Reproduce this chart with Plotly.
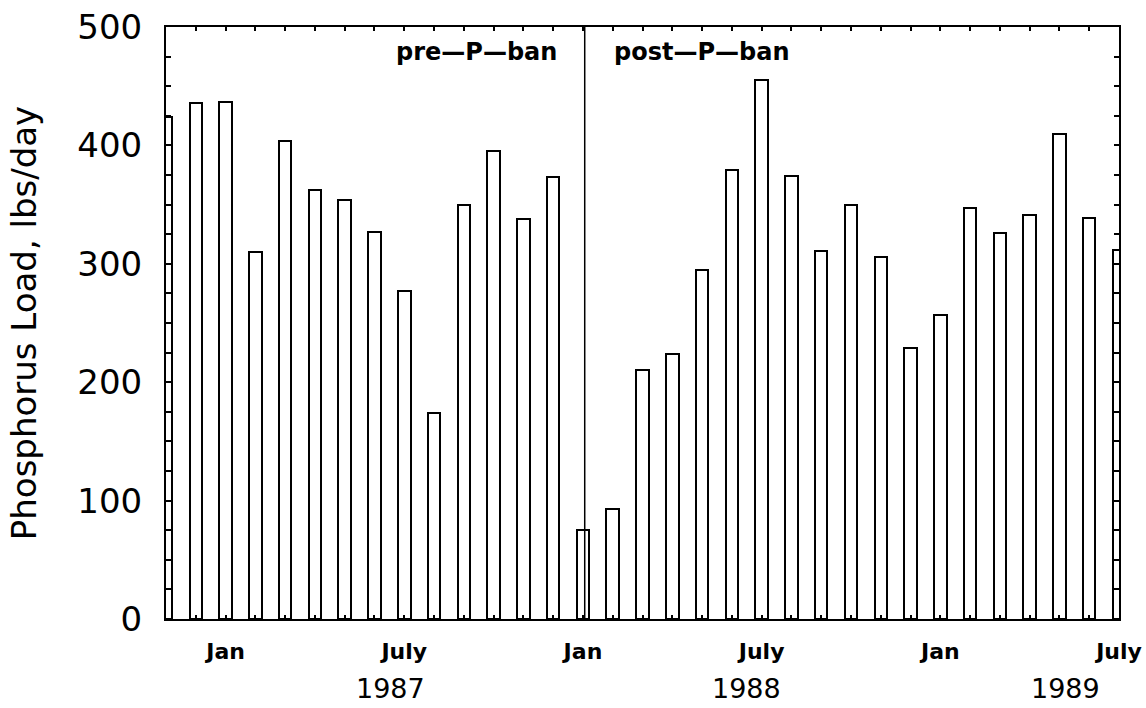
import plotly.graph_objects as go

# ---- data ----
months = [
    "Nov 1986", "Dec 1986",
    "Jan 1987", "Feb 1987", "Mar 1987", "Apr 1987", "May 1987", "Jun 1987",
    "Jul 1987", "Aug 1987", "Sep 1987", "Oct 1987", "Nov 1987", "Dec 1987",
    "Jan 1988", "Feb 1988", "Mar 1988", "Apr 1988", "May 1988", "Jun 1988",
    "Jul 1988", "Aug 1988", "Sep 1988", "Oct 1988", "Nov 1988", "Dec 1988",
    "Jan 1989", "Feb 1989", "Mar 1989", "Apr 1989", "May 1989", "Jun 1989",
    "Jul 1989",
]
p_load = [
    424, 436,
    437, 310, 404, 362, 354, 327, 277, 174, 350, 395, 338, 373,
    75, 93, 210, 224, 295, 379, 455, 374, 311, 350, 306, 229,
    257, 347, 326, 341, 410, 339, 312,
]
month_tick_names = {"Jan": "Jan", "Jul": "July"}
year_labels = ["1987", "1988", "1989"]
year_positions = [7.55, 19.5, 30.2]     # month-index positions of year captions
ban_month = "Jan 1988"
y_ticks = [0, 100, 200, 300, 400, 500]

# ---- derived ----
x_idx = list(range(len(months)))
tick_text = [month_tick_names.get(m.split()[0], "") for m in months]
ban_x = months.index(ban_month) + 0.06

FONT = "DejaVu Sans"

fig = go.Figure()
fig.add_trace(go.Bar(
    x=x_idx, y=p_load, width=0.42,
    marker=dict(color="white", line=dict(color="black", width=2)),
    hoverinfo="x+y", showlegend=False,
))

fig.add_shape(type="line", xref="x", yref="y", x0=ban_x, x1=ban_x, y0=0, y1=500,
              line=dict(color="black", width=1.5), layer="above")

fig.add_annotation(x=ban_x - 0.85, y=0.958, xref="x", yref="paper", xanchor="right",
                   yanchor="middle", showarrow=False, text="pre\u2014P\u2014ban",
                   font=dict(family=FONT, size=24, color="black", weight="bold"))
fig.add_annotation(x=ban_x + 0.92, y=0.958, xref="x", yref="paper", xanchor="left",
                   yanchor="middle", showarrow=False, text="post\u2014P\u2014ban",
                   font=dict(family=FONT, size=24, color="black", weight="bold"))

for yl, xp in zip(year_labels, year_positions):
    fig.add_annotation(x=xp, y=-0.117, xref="x", yref="paper", xanchor="center",
                       yanchor="middle", showarrow=False, text=yl,
                       font=dict(family=FONT, size=27, color="black"))

fig.update_layout(
    width=1146, height=708,
    margin=dict(l=166, r=27, t=27, b=89, autoexpand=False),
    paper_bgcolor="white", plot_bgcolor="white",
    font=dict(family=FONT, color="black"),
    bargap=0,
)
fig.update_xaxes(
    range=[0, 32], tickmode="array", tickvals=x_idx, ticktext=tick_text,
    ticks="inside", ticklen=4, tickwidth=2, tickcolor="black",
    showline=True, linecolor="black", linewidth=2, mirror="allticks",
    showgrid=False, zeroline=False,
    tickfont=dict(family=FONT, size=22, color="black", weight="bold"),
    ticklabelstandoff=12,
)
fig.update_yaxes(
    range=[0, 500], tickmode="array", tickvals=y_ticks,
    ticks="inside", ticklen=5, tickwidth=2, tickcolor="black",
    minor=dict(dtick=25, ticks="inside", ticklen=5, tickwidth=2, tickcolor="black", showgrid=False),
    showline=True, linecolor="black", linewidth=2, mirror="allticks",
    showgrid=False, zeroline=False,
    tickfont=dict(family=FONT, size=34, color="black"),
    ticklabelstandoff=15,
    title=dict(text="Phosphorus Load, lbs/day", standoff=30,
               font=dict(family=FONT, size=34, color="black")),
)

fig.write_html("out.html")
